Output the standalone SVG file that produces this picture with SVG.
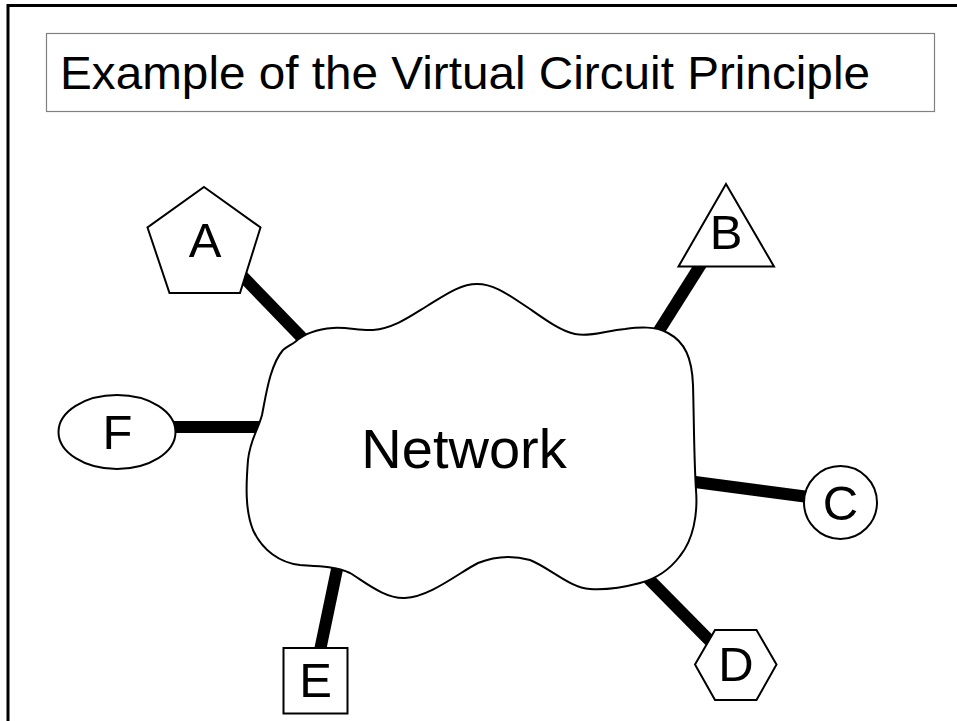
<svg xmlns="http://www.w3.org/2000/svg" width="957" height="721" viewBox="0 0 957 721">
<style>
.shape{fill:#fff;stroke:#000;stroke-width:2}
.lbl{font-family:"Liberation Sans",Arial,sans-serif;font-size:49px;fill:#000;text-anchor:middle}
.conn{stroke:#000;stroke-width:12;fill:none}
</style>
<rect x="0" y="0" width="957" height="721" fill="#fff"/>
<g id="frame">
<path d="M8,740 L8,5.5 L970,5.5" fill="none" stroke="#000" stroke-width="3"/>
</g>
<g id="title">
<rect x="46.5" y="33.5" width="888" height="78" fill="#fff" stroke="#808080" stroke-width="1.2"/>
<text x="60" y="89" font-family="Liberation Sans, Arial, sans-serif" font-size="46" textLength="810" lengthAdjust="spacingAndGlyphs">Example of the Virtual Circuit Principle</text>
</g>
<g id="connectors">
<line class="conn" x1="225" y1="258" x2="310" y2="346"/>
<line class="conn" x1="710" y1="250" x2="650" y2="345"/>
<line class="conn" x1="160" y1="427" x2="272" y2="427"/>
<line class="conn" x1="680" y1="480" x2="820" y2="498.5"/>
<line class="conn" x1="640" y1="570" x2="712" y2="643"/>
<line class="conn" x1="341" y1="550" x2="318" y2="660"/>
</g>
<g id="network">
<path class="shape" d="M 295,342 C 305,333 318,329 333,328 C 348,327 360,331 373,330 C 395,328 412,315 427,306 C 445,295 460,284 477,284 C 495,284 510,296 527,307 C 543,318 560,331 575,334 C 590,337 605,331 625,329 C 640,327 655,326 668,333 C 685,342 692,358 693,385 C 694,420 694,460 696,490 C 698,515 693,540 680,556 C 668,572 655,579 640,583 C 625,587 605,590 590,589 C 570,588 550,568 530,560 C 512,555 495,556 478,563 C 460,572 430,597 405,598 C 385,599 365,582 350,573 C 335,566 315,566 300,565 C 280,563 262,550 253,530 C 245,510 246,485 248,460 C 250,440 258,430 262,415 C 266,395 270,365 283,350 C 288,346 291,345 295,342 Z"/>
<text class="lbl" x="464" y="467.5" style="font-size:56px">Network</text>
</g>
<g id="nodeA">
<polygon class="shape" points="204,187 260.5,227.5 240,293 169.5,293 147.5,227.5"/>
<text class="lbl" x="205" y="257">A</text>
</g>
<g id="nodeB">
<polygon class="shape" points="726,184 774,266.5 678.5,266.5"/>
<text class="lbl" x="726" y="249">B</text>
</g>
<g id="nodeC">
<circle class="shape" cx="840.5" cy="502.5" r="36.5"/>
<text class="lbl" x="840.5" y="520">C</text>
</g>
<g id="nodeD">
<polygon class="shape" points="695,664.5 715,630 756.5,630 776.5,664.5 756.5,700 715,700"/>
<text class="lbl" x="736" y="681">D</text>
</g>
<g id="nodeE">
<rect class="shape" x="283.5" y="648" width="64" height="65.5"/>
<text class="lbl" x="315.5" y="696.5">E</text>
</g>
<g id="nodeF">
<ellipse class="shape" cx="117" cy="432" rx="58.5" ry="37"/>
<text class="lbl" x="117.5" y="448.5">F</text>
</g>
</svg>
